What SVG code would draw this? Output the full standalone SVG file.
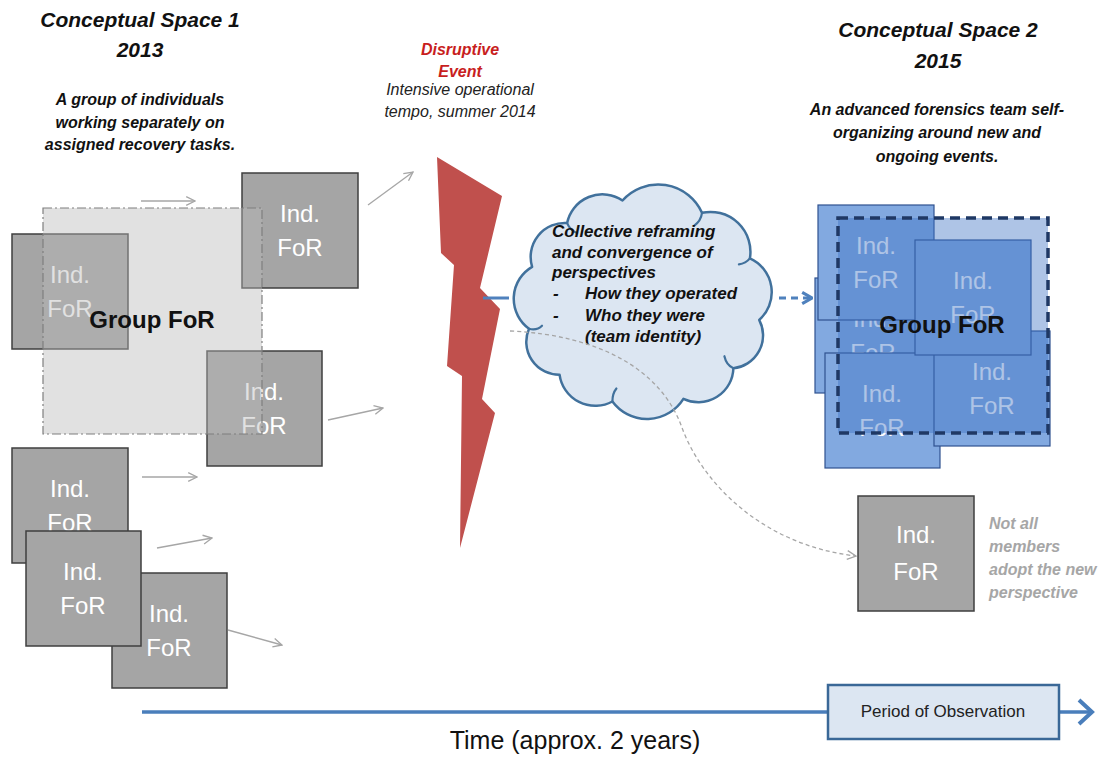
<svg xmlns="http://www.w3.org/2000/svg" width="1109" height="757" viewBox="0 0 1109 757">
  <style>
    text { font-family: "Liberation Sans", Arial, sans-serif; }
    .box { fill: #a5a5a5; stroke: #3f3f3f; stroke-width: 1.5; }
    .bbox { fill: #82a9e0; stroke: #2f528f; stroke-width: 1.2; }
    .lbl { font-size: 24px; fill: #ffffff; text-anchor: middle; }
    .grp { font-size: 24px; font-weight: bold; fill: #111111; text-anchor: middle; }
    .title { font-size: 21px; font-weight: bold; font-style: italic; fill: #111111; text-anchor: middle; }
    .sub { font-size: 16px; font-weight: bold; font-style: italic; fill: #111111; text-anchor: middle; }
    .cloudtxt { font-size: 17px; font-weight: bold; font-style: italic; fill: #111111; }
    .note { font-size: 16px; font-weight: bold; font-style: italic; fill: #a6a6a6; }
    .thin { fill: none; stroke: #a6a6a6; stroke-width: 1.3; marker-end: url(#openGrey); }
  </style>
  <defs>
    <marker id="openGrey" viewBox="0 0 10 10" refX="9" refY="5" markerWidth="11" markerHeight="11" markerUnits="userSpaceOnUse" orient="auto">
      <path d="M1,1 L9,5 L1,9" fill="none" stroke="#a6a6a6" stroke-width="1.2"/>
    </marker>
    <marker id="openBlue" viewBox="0 0 10 10" refX="9" refY="5" markerWidth="14" markerHeight="16" markerUnits="userSpaceOnUse" orient="auto">
      <path d="M2,1 L9,5 L2,9" fill="none" stroke="#4f81bd" stroke-width="2.2"/>
    </marker>
  </defs>

  <rect width="1109" height="757" fill="#ffffff"/>

  <!-- headings -->
  <g id="heading-left">
    <text class="title" x="140" y="27">Conceptual Space 1</text>
    <text class="title" x="140" y="57">2013</text>
    <text class="sub" x="140" y="105">A group  of individuals</text>
    <text class="sub" x="140" y="128">working separately on</text>
    <text class="sub" x="140" y="150">assigned  recovery tasks.</text>
  </g>
  <g id="heading-right">
    <text class="title" x="938" y="37">Conceptual Space 2</text>
    <text class="title" x="938" y="68">2015</text>
    <text class="sub" x="937" y="115">An advanced forensics team self-</text>
    <text class="sub" x="937" y="138">organizing  around new and</text>
    <text class="sub" x="937" y="162">ongoing  events.</text>
  </g>
  <g id="event-label">
    <text x="460" y="55" font-size="16" font-weight="bold" font-style="italic" fill="#c81e1e" text-anchor="middle">Disruptive</text>
    <text x="460" y="77" font-size="16" font-weight="bold" font-style="italic" fill="#c81e1e" text-anchor="middle">Event</text>
    <text x="460" y="95" font-size="16" font-style="italic" fill="#222222" text-anchor="middle">Intensive operational</text>
    <text x="460" y="117" font-size="16" font-style="italic" fill="#222222" text-anchor="middle">tempo, summer 2014</text>
  </g>

  <!-- conceptual space 1: individual frames and group frame -->
  <g id="ind-a"><rect class="box" x="12" y="234" width="116" height="115"/><text class="lbl" x="70" y="283">Ind.</text><text class="lbl" x="70" y="317">FoR</text></g>
  <g id="ind-b"><rect class="box" x="242" y="173" width="116" height="115"/><text class="lbl" x="300" y="222">Ind.</text><text class="lbl" x="300" y="256">FoR</text></g>
  <g id="ind-c"><rect class="box" x="207" y="351" width="115" height="115"/><text class="lbl" x="264" y="400">Ind.</text><text class="lbl" x="264" y="434">FoR</text></g>
  <g id="group-1">
    <rect x="43" y="208" width="219" height="226" fill="#b8b8b8" fill-opacity="0.42" stroke="#7f7f7f" stroke-width="1.2" stroke-dasharray="9,3,2,3"/>
    <text class="grp" x="152" y="328">Group FoR</text>
  </g>
  <g id="ind-d"><rect class="box" x="12" y="448" width="116" height="115"/><text class="lbl" x="70" y="497">Ind.</text><text class="lbl" x="70" y="531">FoR</text></g>
  <g id="ind-f"><rect class="box" x="112" y="573" width="115" height="115"/><text class="lbl" x="169" y="622">Ind.</text><text class="lbl" x="169" y="656">FoR</text></g>
  <g id="ind-e"><rect class="box" x="26" y="531" width="115" height="115"/><text class="lbl" x="83" y="580">Ind.</text><text class="lbl" x="83" y="614">FoR</text></g>

  <!-- disruptive event bolt -->
  <g id="bolt">
    <polygon points="437,157 502,196 480,288 500,309 482,399 495,413 460,548 462,376 447,366 454,265 441,253" fill="#c0504d"/>
  </g>

  <!-- reframing cloud -->
  <g id="cloud">
    <path d="M622.5,200.5 A48,48 0 0 1 702,212.8 A40,40 0 0 1 749.9,258.4 A37,37 0 0 1 759.2,319.9 A33,33 0 0 1 733.4,368.2 A35,35 0 0 1 683.4,398.8 A43,43 0 0 1 612.4,401.5 A36,36 0 0 1 559.6,374.8 A33,33 0 0 1 529,328.7 A37,37 0 0 1 532.1,266.8 A34,34 0 0 1 567.1,223.1 A36,36 0 0 1 622.5,200.5 Z" fill="#dce6f2" stroke="#41719c" stroke-width="2.5" stroke-linejoin="round"/>
    <g fill="none" stroke="#41719c" stroke-width="2.2" stroke-linecap="round">
      <path d="M702,212.8 q-1,8 -8,13"/>
      <path d="M733.4,368.2 q-7,-3 -9,-12"/>
      <path d="M612.4,401.5 q0,-8 4,-13"/>
      <path d="M529,328.7 q8,2 13,-3"/>
      <path d="M567.1,223.1 q3,7 10,10"/>
      <path d="M749.9,258.4 q-4,5 -11,6"/>
    </g>
    <text class="cloudtxt" x="552" y="237">Collective reframing</text>
    <text class="cloudtxt" x="552" y="258">and  convergence of</text>
    <text class="cloudtxt" x="552" y="278">perspectives</text>
    <text class="cloudtxt" x="553" y="299">-</text>
    <text class="cloudtxt" x="585" y="299">How they operated</text>
    <text class="cloudtxt" x="553" y="321">-</text>
    <text class="cloudtxt" x="585" y="321">Who they were</text>
    <text class="cloudtxt" x="585" y="342">(team identity)</text>
  </g>

  <!-- conceptual space 2: converged frames -->
  <g id="ind-r2"><rect class="bbox" x="815" y="278" width="116" height="115"/><text class="lbl" x="873" y="327">Ind.</text><text class="lbl" x="873" y="361">FoR</text></g>
  <g id="ind-r1"><rect class="bbox" x="818" y="205" width="116" height="115"/><text class="lbl" x="876" y="254">Ind.</text><text class="lbl" x="876" y="288">FoR</text></g>
  <g id="ind-r3"><rect class="bbox" x="825" y="353" width="115" height="115"/><text class="lbl" x="882" y="402">Ind.</text><text class="lbl" x="882" y="436">FoR</text></g>
  <g id="ind-r5"><rect class="bbox" x="934" y="331" width="116" height="115"/><text class="lbl" x="992" y="380">Ind.</text><text class="lbl" x="992" y="414">FoR</text></g>
  <g id="ind-r4"><rect class="bbox" x="915" y="240" width="116" height="115"/><text class="lbl" x="973" y="289">Ind.</text><text class="lbl" x="973" y="323">FoR</text></g>
  <g id="group-2">
    <rect x="838" y="218" width="210" height="215" fill="#3d72c4" fill-opacity="0.42" stroke="#1f3864" stroke-width="3.5" stroke-dasharray="10,6"/>
    <text class="grp" x="942" y="333">Group FoR</text>
  </g>

  <!-- member that keeps its own frame -->
  <g id="ind-g"><rect class="box" x="858" y="496" width="116" height="115"/><text class="lbl" x="916" y="543">Ind.</text><text class="lbl" x="916" y="580">FoR</text></g>
  <g id="note">
    <text class="note" x="989" y="529">Not all</text>
    <text class="note" x="989" y="552">members</text>
    <text class="note" x="989" y="575">adopt the new</text>
    <text class="note" x="989" y="598">perspective</text>
  </g>

  <!-- connectors -->
  <g id="connectors">
    <line class="thin" x1="141" y1="201" x2="195" y2="201"/>
    <line class="thin" x1="368" y1="205" x2="413" y2="172"/>
    <line class="thin" x1="328" y1="420" x2="383" y2="408"/>
    <line class="thin" x1="142" y1="477" x2="197" y2="477"/>
    <line class="thin" x1="157" y1="548" x2="212" y2="538"/>
    <line class="thin" x1="228" y1="630" x2="282" y2="645"/>
    <line x1="483" y1="298" x2="509" y2="298" stroke="#4f81bd" stroke-width="3"/>
    <line x1="779" y1="298" x2="812" y2="298" stroke="#4f81bd" stroke-width="3" stroke-dasharray="7,5" marker-end="url(#openBlue)"/>
    <path d="M510,331 C600,335 660,370 681,425 C700,480 760,545 856,556" fill="none" stroke="#a6a6a6" stroke-width="1.3" stroke-dasharray="4,3" marker-end="url(#openGrey)"/>
  </g>

  <!-- time axis -->
  <g id="timeline">
    <line x1="142" y1="712" x2="828" y2="712" stroke="#4a7ebb" stroke-width="3.5"/>
    <line x1="1059" y1="712" x2="1090" y2="712" stroke="#4a7ebb" stroke-width="3.5"/>
    <polyline points="1079,700 1092,712 1079,724" fill="none" stroke="#4a7ebb" stroke-width="4" stroke-linejoin="miter"/>
    <text x="575" y="749" font-size="25" fill="#111111" text-anchor="middle">Time (approx. 2 years)</text>
  </g>
  <g id="observation">
    <rect x="828" y="685" width="231" height="54" fill="#dce6f2" stroke="#3a6897" stroke-width="2.5"/>
    <text x="943" y="717" font-size="17" fill="#222222" text-anchor="middle">Period of Observation</text>
  </g>
</svg>
